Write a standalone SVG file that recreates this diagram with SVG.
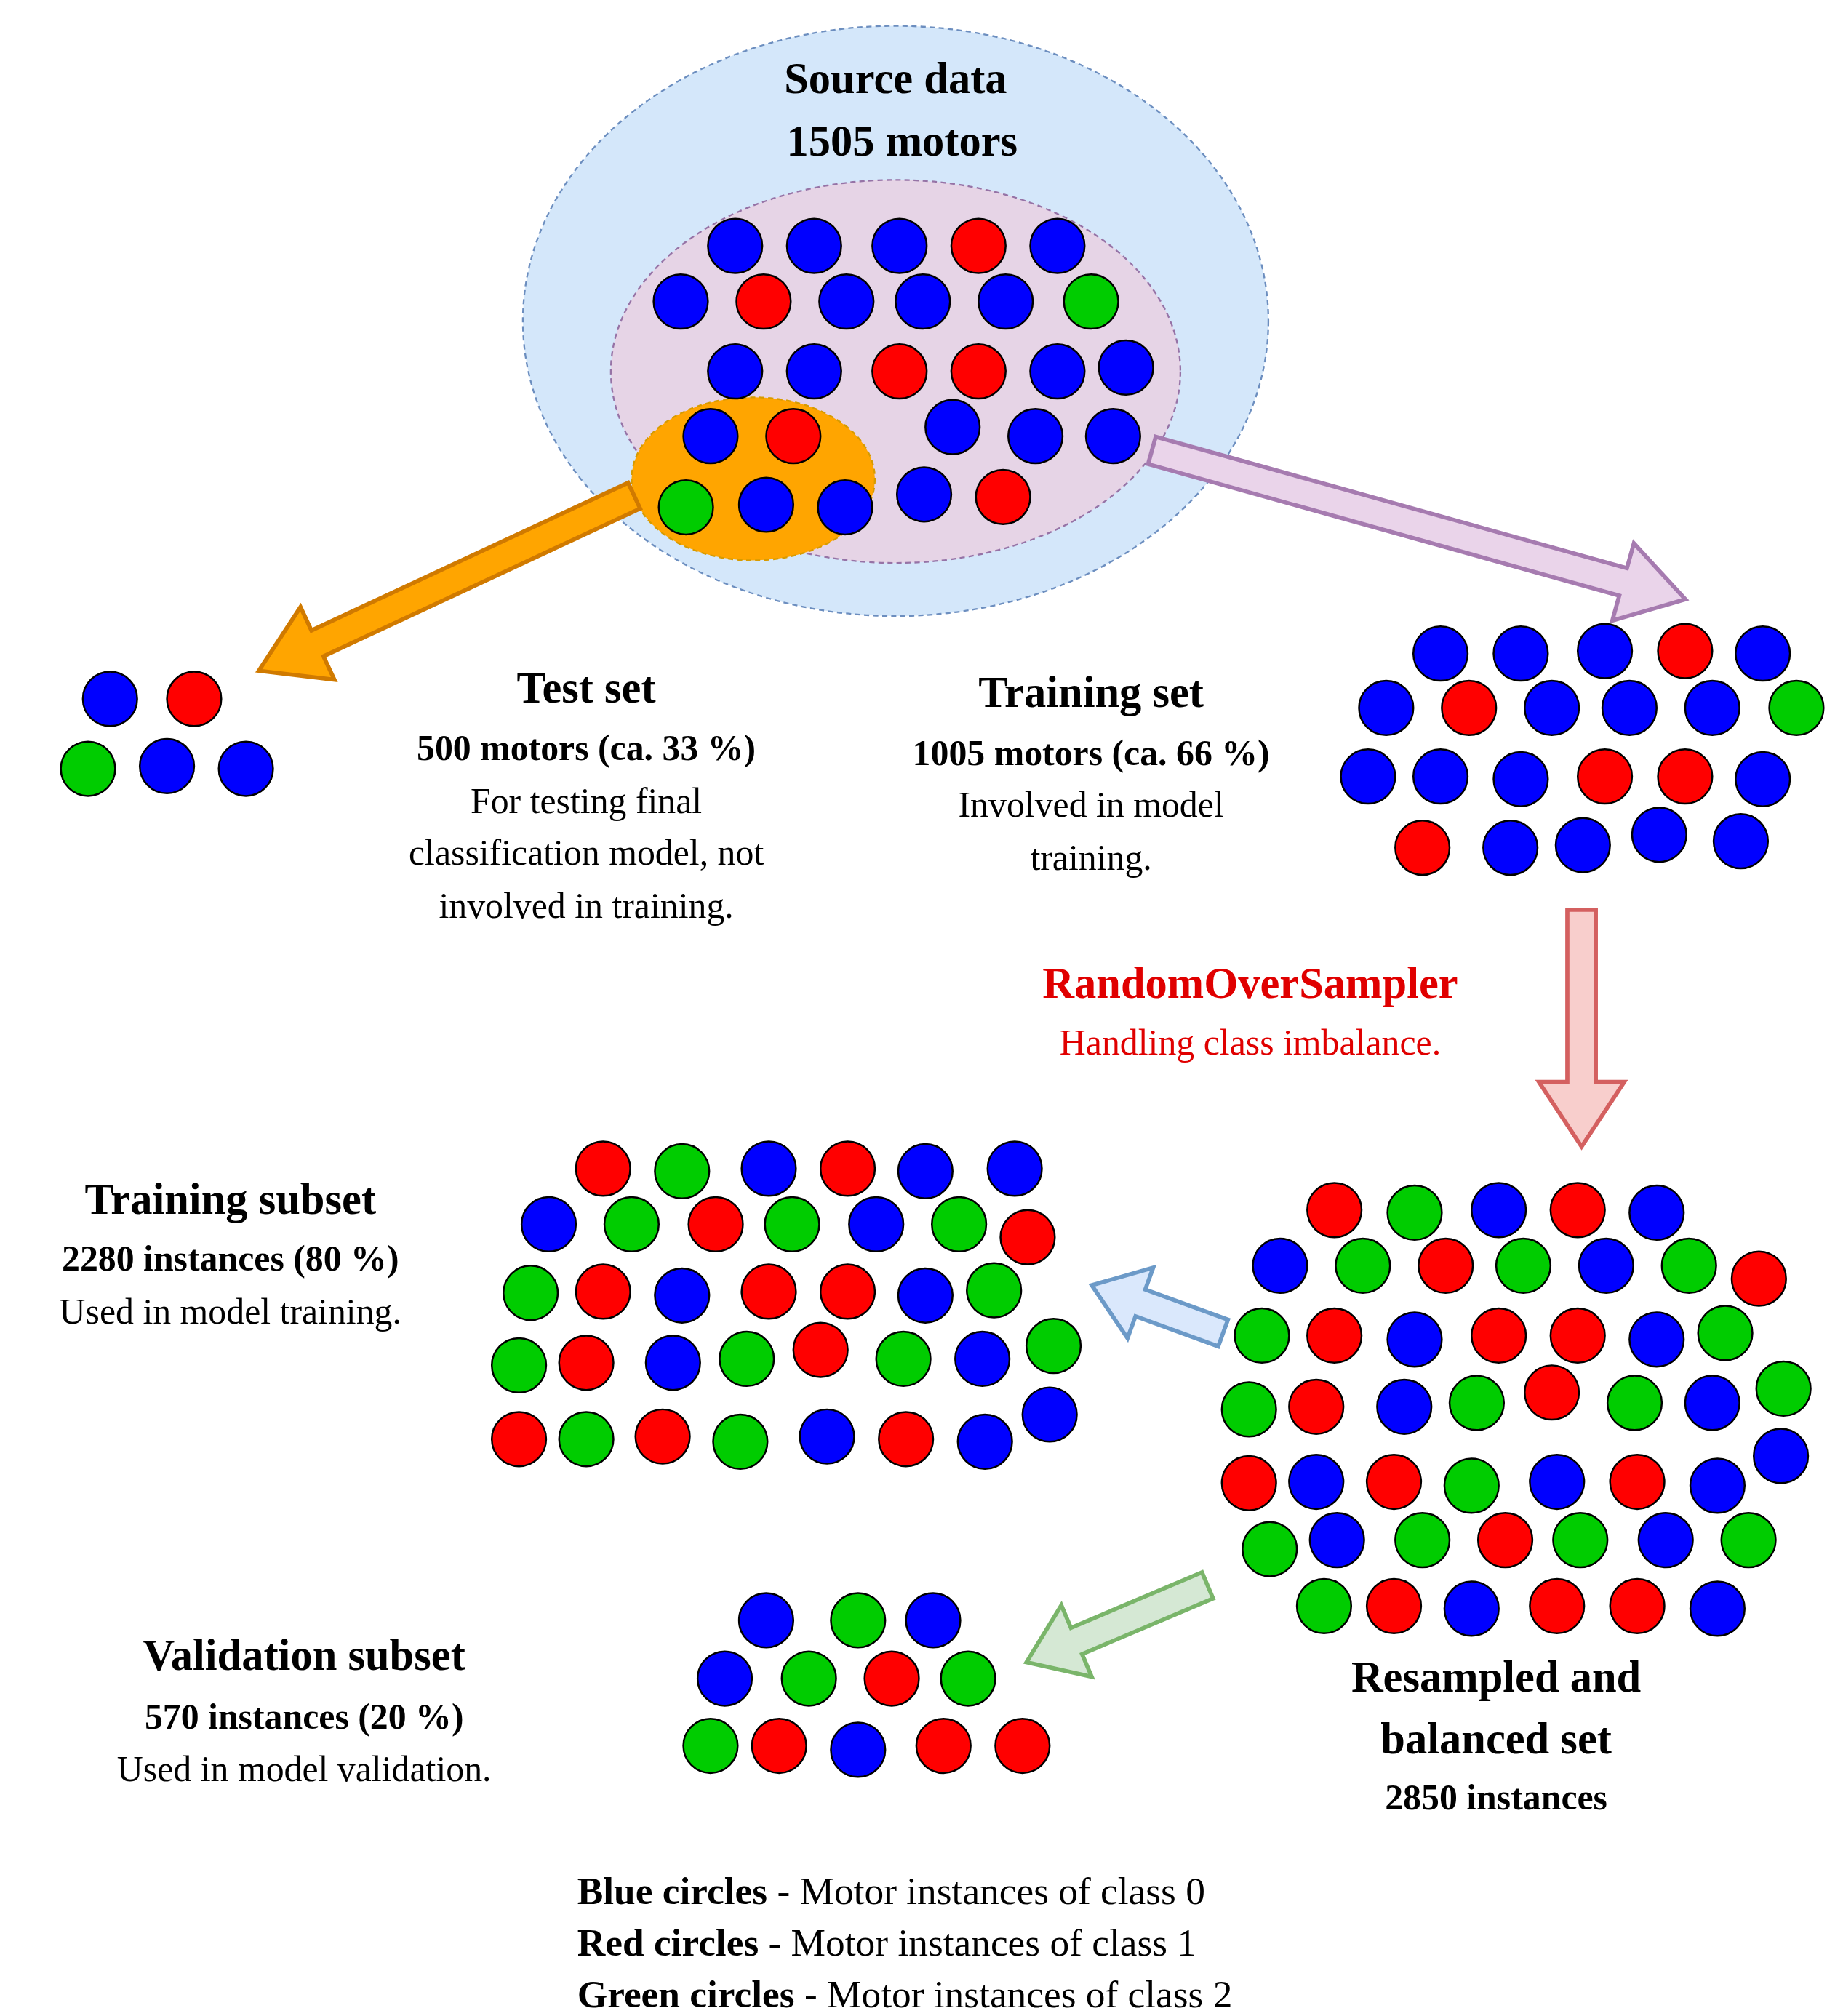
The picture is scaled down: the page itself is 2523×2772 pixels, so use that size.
<svg xmlns="http://www.w3.org/2000/svg" width="2523" height="2772" viewBox="0 0 2523 2772">
<style>
.b{fill:#0000ff;stroke:#000;stroke-width:1.4}
.r{fill:#ff0000;stroke:#000;stroke-width:1.4}
.g{fill:#00cc00;stroke:#000;stroke-width:1.4}
text{font-family:"Liberation Serif","Times New Roman",serif;text-anchor:middle;fill:#000}
.h{font-weight:bold;font-size:34px}
.s{font-weight:bold;font-size:28px}
.n{font-size:28px}
.red{fill:#e00000}
</style>
<rect width="2523" height="2772" fill="#fff"/>
<g transform="scale(1.7795)">
<g id="source">
<ellipse cx="692" cy="248" rx="288" ry="228" fill="#d4e7fa" stroke="#6c8ebf" stroke-width="1.3" stroke-dasharray="4 3"/>
<ellipse cx="692" cy="287" rx="220" ry="148" fill="#e6d4e6" stroke="#9673a6" stroke-width="1.3" stroke-dasharray="4 3"/>
<ellipse cx="582" cy="370" rx="94" ry="63" fill="#ffa500" stroke="#d79b00" stroke-width="1.3" stroke-dasharray="4 3"/>
<text class="h" x="692" y="72" font-size="36">Source data</text>
<text class="h" x="697" y="120">1505 motors</text>
</g>
<g id="connectors" stroke-width="3.2" stroke-linejoin="miter">
<path transform="translate(490,383) rotate(155)" d="M0,-11 L270,-11 L270,-31 L320,0 L270,31 L270,11 L0,11 Z" fill="#ffa500" stroke="#d07a00"/>
<path transform="translate(890,348) rotate(15.6)" d="M0,-11 L378,-11 L378,-31 L428,0 L378,31 L378,11 L0,11 Z" fill="#ead4ea" stroke="#a67bb0"/>
<path transform="translate(1222,703) rotate(90)" d="M0,-11 L133,-11 L133,-33 L183,0 L133,33 L133,11 L0,11 Z" fill="#f8cecc" stroke="#d46060"/>
<path transform="translate(945,1030) rotate(200)" d="M0,-11 L68,-11 L68,-29 L108,0 L68,29 L68,11 L0,11 Z" fill="#dae8fc" stroke="#6c9ac8"/>
<path transform="translate(933,1225) rotate(157)" d="M0,-11 L110,-11 L110,-30 L152,0 L110,30 L110,11 L0,11 Z" fill="#d5e8d4" stroke="#7ab56a"/>
</g>
<g id="source-circles">
<circle class="b" cx="568" cy="190" r="21"/><circle class="b" cx="629" cy="190" r="21"/><circle class="b" cx="695" cy="190" r="21"/><circle class="r" cx="756" cy="190" r="21"/><circle class="b" cx="817" cy="190" r="21"/>
<circle class="b" cx="526" cy="233" r="21"/><circle class="r" cx="590" cy="233" r="21"/><circle class="b" cx="654" cy="233" r="21"/><circle class="b" cx="713" cy="233" r="21"/><circle class="b" cx="777" cy="233" r="21"/><circle class="g" cx="843" cy="233" r="21"/>
<circle class="b" cx="568" cy="287" r="21"/><circle class="b" cx="629" cy="287" r="21"/><circle class="r" cx="695" cy="287" r="21"/><circle class="r" cx="756" cy="287" r="21"/><circle class="b" cx="817" cy="287" r="21"/><circle class="b" cx="870" cy="284" r="21"/>
<circle class="b" cx="549" cy="337" r="21"/><circle class="r" cx="613" cy="337" r="21"/><circle class="b" cx="736" cy="330" r="21"/><circle class="b" cx="800" cy="337" r="21"/><circle class="b" cx="860" cy="337" r="21"/>
<circle class="g" cx="530" cy="392" r="21"/><circle class="b" cx="592" cy="390" r="21"/><circle class="b" cx="653" cy="392" r="21"/><circle class="b" cx="714" cy="382" r="21"/><circle class="r" cx="775" cy="384" r="21"/>
</g>
<g id="test-set">
<circle class="b" cx="85" cy="540" r="21"/><circle class="r" cx="150" cy="540" r="21"/><circle class="g" cx="68" cy="594" r="21"/><circle class="b" cx="129" cy="592" r="21"/><circle class="b" cx="190" cy="594" r="21"/>
<text class="h" x="453" y="543">Test set</text>
<text class="s" x="453" y="587">500 motors (ca. 33 %)</text>
<text class="n" x="453" y="628">For testing final</text>
<text class="n" x="453" y="668">classification model, not</text>
<text class="n" x="453" y="709">involved in training.</text>
</g>
<g id="training-set">
<circle class="b" cx="1113" cy="505" r="21"/><circle class="b" cx="1175" cy="505" r="21"/><circle class="b" cx="1240" cy="503" r="21"/><circle class="r" cx="1302" cy="503" r="21"/><circle class="b" cx="1362" cy="505" r="21"/>
<circle class="b" cx="1071" cy="547" r="21"/><circle class="r" cx="1135" cy="547" r="21"/><circle class="b" cx="1199" cy="547" r="21"/><circle class="b" cx="1259" cy="547" r="21"/><circle class="b" cx="1323" cy="547" r="21"/><circle class="g" cx="1388" cy="547" r="21"/>
<circle class="b" cx="1057" cy="600" r="21"/><circle class="b" cx="1113" cy="600" r="21"/><circle class="b" cx="1175" cy="602" r="21"/><circle class="r" cx="1240" cy="600" r="21"/><circle class="r" cx="1302" cy="600" r="21"/><circle class="b" cx="1362" cy="602" r="21"/>
<circle class="r" cx="1099" cy="655" r="21"/><circle class="b" cx="1167" cy="655" r="21"/><circle class="b" cx="1223" cy="653" r="21"/><circle class="b" cx="1282" cy="645" r="21"/><circle class="b" cx="1345" cy="650" r="21"/>
<text class="h" x="843" y="546">Training set</text>
<text class="s" x="843" y="591">1005 motors (ca. 66 %)</text>
<text class="n" x="843" y="631">Involved in model</text>
<text class="n" x="843" y="672">training.</text>
</g>
<g id="oversampler">
<text class="h red" x="966" y="771">RandomOverSampler</text>
<text class="n red" x="966" y="815">Handling class imbalance.</text>
</g>
<g id="resampled-set">
<circle class="r" cx="1031" cy="935" r="21"/><circle class="g" cx="1093" cy="937" r="21"/><circle class="b" cx="1158" cy="935" r="21"/><circle class="r" cx="1219" cy="935" r="21"/><circle class="b" cx="1280" cy="937" r="21"/>
<circle class="b" cx="989" cy="978" r="21"/><circle class="g" cx="1053" cy="978" r="21"/><circle class="r" cx="1117" cy="978" r="21"/><circle class="g" cx="1177" cy="978" r="21"/><circle class="b" cx="1241" cy="978" r="21"/><circle class="g" cx="1305" cy="978" r="21"/><circle class="r" cx="1359" cy="988" r="21"/>
<circle class="g" cx="975" cy="1032" r="21"/><circle class="r" cx="1031" cy="1032" r="21"/><circle class="b" cx="1093" cy="1035" r="21"/><circle class="r" cx="1158" cy="1032" r="21"/><circle class="r" cx="1219" cy="1032" r="21"/><circle class="b" cx="1280" cy="1035" r="21"/><circle class="g" cx="1333" cy="1030" r="21"/>
<circle class="g" cx="965" cy="1089" r="21"/><circle class="r" cx="1017" cy="1087" r="21"/><circle class="b" cx="1085" cy="1087" r="21"/><circle class="g" cx="1141" cy="1084" r="21"/><circle class="r" cx="1199" cy="1076" r="21"/><circle class="g" cx="1263" cy="1084" r="21"/><circle class="b" cx="1323" cy="1084" r="21"/><circle class="g" cx="1378" cy="1073" r="21"/>
<circle class="r" cx="965" cy="1146" r="21"/><circle class="b" cx="1017" cy="1145" r="21"/><circle class="r" cx="1077" cy="1145" r="21"/><circle class="g" cx="1137" cy="1148" r="21"/><circle class="b" cx="1203" cy="1145" r="21"/><circle class="r" cx="1265" cy="1145" r="21"/><circle class="b" cx="1327" cy="1148" r="21"/><circle class="b" cx="1376" cy="1125" r="21"/>
<circle class="g" cx="981" cy="1197" r="21"/><circle class="b" cx="1033" cy="1190" r="21"/><circle class="g" cx="1099" cy="1190" r="21"/><circle class="r" cx="1163" cy="1190" r="21"/><circle class="g" cx="1221" cy="1190" r="21"/><circle class="b" cx="1287" cy="1190" r="21"/><circle class="g" cx="1351" cy="1190" r="21"/>
<circle class="g" cx="1023" cy="1241" r="21"/><circle class="r" cx="1077" cy="1241" r="21"/><circle class="b" cx="1137" cy="1243" r="21"/><circle class="r" cx="1203" cy="1241" r="21"/><circle class="r" cx="1265" cy="1241" r="21"/><circle class="b" cx="1327" cy="1243" r="21"/>
<text class="h" x="1156" y="1307" font-size="36">Resampled and</text>
<text class="h" x="1156" y="1355" font-size="36">balanced set</text>
<text class="s" x="1156" y="1398">2850 instances</text>
</g>
<g id="training-subset">
<circle class="r" cx="466" cy="903" r="21"/><circle class="g" cx="527" cy="905" r="21"/><circle class="b" cx="594" cy="903" r="21"/><circle class="r" cx="655" cy="903" r="21"/><circle class="b" cx="715" cy="905" r="21"/><circle class="b" cx="784" cy="903" r="21"/>
<circle class="b" cx="424" cy="946" r="21"/><circle class="g" cx="488" cy="946" r="21"/><circle class="r" cx="553" cy="946" r="21"/><circle class="g" cx="612" cy="946" r="21"/><circle class="b" cx="677" cy="946" r="21"/><circle class="g" cx="741" cy="946" r="21"/><circle class="r" cx="794" cy="956" r="21"/>
<circle class="g" cx="410" cy="999" r="21"/><circle class="r" cx="466" cy="998" r="21"/><circle class="b" cx="527" cy="1001" r="21"/><circle class="r" cx="594" cy="998" r="21"/><circle class="r" cx="655" cy="998" r="21"/><circle class="b" cx="715" cy="1001" r="21"/><circle class="g" cx="768" cy="997" r="21"/>
<circle class="g" cx="401" cy="1055" r="21"/><circle class="r" cx="453" cy="1053" r="21"/><circle class="b" cx="520" cy="1053" r="21"/><circle class="g" cx="577" cy="1050" r="21"/><circle class="r" cx="634" cy="1043" r="21"/><circle class="g" cx="698" cy="1050" r="21"/><circle class="b" cx="759" cy="1050" r="21"/><circle class="g" cx="814" cy="1040" r="21"/>
<circle class="r" cx="401" cy="1112" r="21"/><circle class="g" cx="453" cy="1112" r="21"/><circle class="r" cx="512" cy="1110" r="21"/><circle class="g" cx="572" cy="1114" r="21"/><circle class="b" cx="639" cy="1110" r="21"/><circle class="r" cx="700" cy="1112" r="21"/><circle class="b" cx="761" cy="1114" r="21"/><circle class="b" cx="811" cy="1093" r="21"/>
<text class="h" x="178" y="938">Training subset</text>
<text class="s" x="178" y="982">2280 instances (80 %)</text>
<text class="n" x="178" y="1023">Used in model training.</text>
</g>
<g id="validation-subset">
<circle class="b" cx="592" cy="1252" r="21"/><circle class="g" cx="663" cy="1252" r="21"/><circle class="b" cx="721" cy="1252" r="21"/>
<circle class="b" cx="560" cy="1297" r="21"/><circle class="g" cx="625" cy="1297" r="21"/><circle class="r" cx="689" cy="1297" r="21"/><circle class="g" cx="748" cy="1297" r="21"/>
<circle class="g" cx="549" cy="1349" r="21"/><circle class="r" cx="602" cy="1349" r="21"/><circle class="b" cx="663" cy="1352" r="21"/><circle class="r" cx="729" cy="1349" r="21"/><circle class="r" cx="790" cy="1349" r="21"/>
<text class="h" x="235" y="1290">Validation subset</text>
<text class="s" x="235" y="1336">570 instances (20 %)</text>
<text class="n" x="235" y="1376">Used in model validation.</text>
</g>
<g id="legend" font-size="30">
<text x="446" y="1471" style="text-anchor:start;font-size:30px"><tspan font-weight="bold">Blue circles</tspan> - Motor instances of class 0</text>
<text x="446" y="1511" style="text-anchor:start;font-size:30px"><tspan font-weight="bold">Red circles</tspan> - Motor instances of class 1</text>
<text x="446" y="1551" style="text-anchor:start;font-size:30px"><tspan font-weight="bold">Green circles</tspan> - Motor instances of class 2</text>
</g>
</g>
</svg>
